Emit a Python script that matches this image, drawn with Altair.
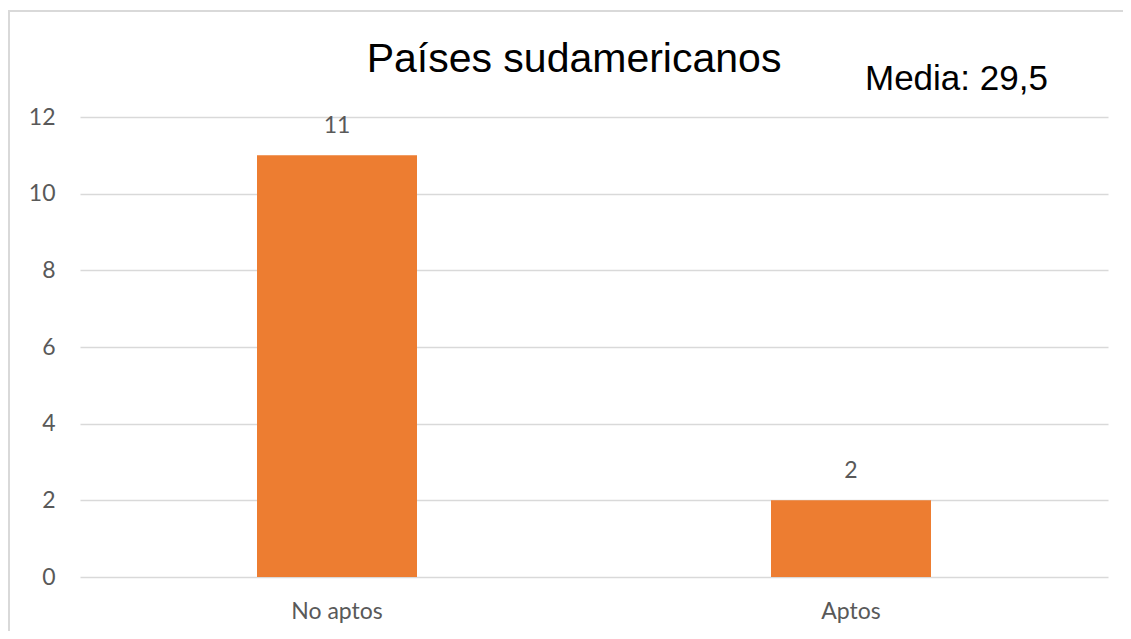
import altair as alt
import pandas as pd

categories = ["No aptos", "Aptos"]
counts = [11, 2]
y_ticks = [0, 2, 4, 6, 8, 10, 12]
title_text = "Países sudamericanos"
note_text = "Media: 29,5"

df = pd.DataFrame({"cat": categories, "n": counts})

x_enc = alt.X("cat:N", sort=categories, title=None,
              scale=alt.Scale(paddingInner=0, paddingOuter=0),
              axis=alt.Axis(labelAngle=0, labelFont="Lato", labelFontSize=23,
                            labelColor="#595959", labelPadding=23, ticks=False,
                            domain=False, grid=False))
y_enc = alt.Y("n:Q", title=None, scale=alt.Scale(domain=[0, 12], nice=False),
              axis=alt.Axis(values=y_ticks, labelFont="Lato", labelFontSize=23,
                            labelColor="#595959", labelPadding=25, ticks=False,
                            domain=False, grid=True, gridColor="#d9d9d9",
                            gridWidth=1.5))

bars = alt.Chart(df).mark_bar(size=160, color="#ED7D31").encode(x=x_enc, y=y_enc)

labels = alt.Chart(df).mark_text(font="Lato", fontSize=23, color="#595959",
                                 baseline="alphabetic", dy=-22).encode(
    x=alt.X("cat:N", sort=categories), y="n:Q", text="n:Q")

title = alt.Chart(pd.DataFrame({"t": [title_text]})).mark_text(
    font="Liberation Sans", fontSize=41, color="#000000", align="center",
    baseline="alphabetic").encode(x=alt.value(494), y=alt.value(-45), text="t:N")

note = alt.Chart(pd.DataFrame({"t": [note_text]})).mark_text(
    font="Liberation Sans", fontSize=35, color="#000000", align="left",
    baseline="alphabetic").encode(x=alt.value(785), y=alt.value(-27), text="t:N")

frame = alt.Chart(pd.DataFrame({"a": [0]})).mark_rect(
    fill=None, fillOpacity=0, stroke="#d9d9d9", strokeWidth=2).encode(
    x=alt.value(-71), x2=alt.value(1300), y=alt.value(-106), y2=alt.value(700))

chart = alt.layer(frame, bars, labels, title, note).properties(
    width=1028, height=460,
    autosize=alt.AutoSizeParams(type="none"),
    padding={"left": 72, "top": 109, "right": 15, "bottom": 54},
).configure(background="white", view=alt.ViewConfig(stroke=None, strokeWidth=0))

chart.save("out.html", embed_options={"renderer": "svg", "actions": False})
